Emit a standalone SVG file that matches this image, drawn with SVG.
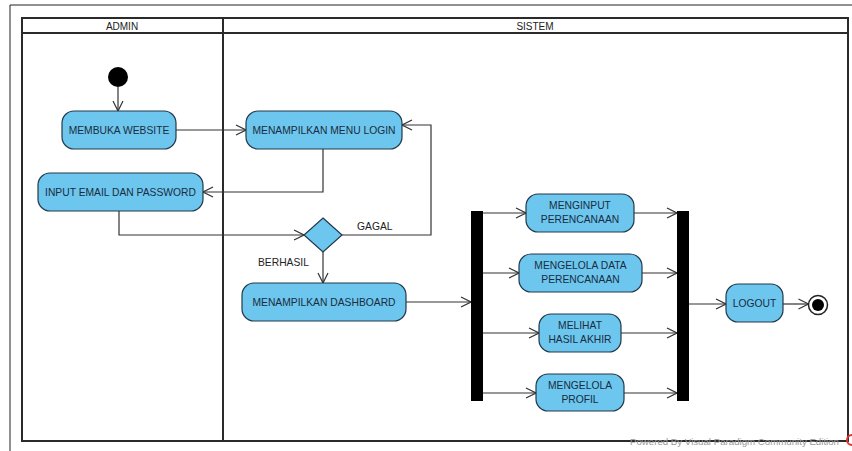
<svg xmlns="http://www.w3.org/2000/svg" width="852" height="451" viewBox="0 0 852 451">
  <style>
    .lane { fill: none; stroke: #2a2a2a; stroke-width: 2; }
    .hdr { font-family: "Liberation Sans", Arial, sans-serif; font-size: 10px; fill: #222; text-anchor: middle; }
    .act { fill: #6cc6ee; stroke: #22394a; stroke-width: 1.2; }
    .lbl { font-family: "Liberation Sans", Arial, sans-serif; font-size: 10.3px; fill: #1a2c3e; text-anchor: middle; }
    .guard { font-family: "Liberation Sans", Arial, sans-serif; font-size: 10.3px; fill: #222; }
    .edge { fill: none; stroke: #333; stroke-width: 1.2; marker-end: url(#open); }
    .bar { fill: #000; }
    .wm { font-family: "Liberation Sans", Arial, sans-serif; font-size: 9.4px; fill: #999; }
  </style>
  <defs>
    <marker id="open" viewBox="0 0 12 12" refX="11" refY="6" markerWidth="12" markerHeight="12" markerUnits="userSpaceOnUse" orient="auto">
      <path d="M1,1 L11,6 L1,11" fill="none" stroke="#333" stroke-width="1.2"/>
    </marker>
  </defs>

  <rect width="852" height="451" fill="#fff"/>
  <!-- page frame -->
  <path d="M10,451 V5 H852" fill="none" stroke="#222" stroke-width="1"/>

  <!-- swimlanes -->
  <g id="swimlanes">
    <rect class="lane" x="22" y="18" width="826" height="423"/>
    <line class="lane" x1="22" y1="33" x2="848" y2="33"/>
    <line class="lane" x1="223" y1="18" x2="223" y2="441"/>
    <text class="hdr" x="122" y="29.5">ADMIN</text>
    <text class="hdr" x="535" y="29.5">SISTEM</text>
  </g>

  <!-- connectors -->
  <g id="connectors">
    <path class="edge" d="M118,87 V111"/>
    <path class="edge" d="M176,130 H246"/>
    <path class="edge" d="M323,149 V192 H203"/>
    <path class="edge" d="M119,211 V235 H304"/>
    <path class="edge" d="M342,235 H431 V125 H402"/>
    <path class="edge" d="M323,252 V283"/>
    <path class="edge" d="M406,302 H471"/>
    <path class="edge" d="M483,213 H526"/>
    <path class="edge" d="M483,273 H519"/>
    <path class="edge" d="M483,333 H539"/>
    <path class="edge" d="M483,393 H536"/>
    <path class="edge" d="M634,213 H677"/>
    <path class="edge" d="M642,273 H677"/>
    <path class="edge" d="M621,333 H677"/>
    <path class="edge" d="M624,393 H677"/>
    <path class="edge" d="M689,304 H726"/>
    <path class="edge" d="M783,304 H808.5"/>
    <text class="guard" x="357" y="230">GAGAL</text>
    <text class="guard" x="258" y="266">BERHASIL</text>
  </g>

  <!-- nodes -->
  <g id="start"><circle cx="118" cy="77" r="10" fill="#000"/></g>

  <g id="membuka-website">
    <rect class="act" x="62" y="111" width="114" height="38" rx="12"/>
    <text class="lbl" x="119" y="133.5">MEMBUKA WEBSITE</text>
  </g>

  <g id="menampilkan-menu-login">
    <rect class="act" x="246" y="111" width="156" height="38" rx="12"/>
    <text class="lbl" x="324" y="133.5">MENAMPILKAN MENU LOGIN</text>
  </g>

  <g id="input-email-password">
    <rect class="act" x="38" y="173" width="165" height="38" rx="12"/>
    <text class="lbl" x="120.5" y="195.5">INPUT EMAIL DAN PASSWORD</text>
  </g>

  <g id="decision">
    <polygon class="act" points="323,218 342,235 323,252 304,235"/>
  </g>

  <g id="menampilkan-dashboard">
    <rect class="act" x="242" y="283" width="164" height="38" rx="12"/>
    <text class="lbl" x="324" y="305.5">MENAMPILKAN DASHBOARD</text>
  </g>

  <g id="fork"><rect class="bar" x="471" y="211" width="12" height="190"/></g>

  <g id="menginput-perencanaan">
    <rect class="act" x="526" y="194" width="108" height="38" rx="12"/>
    <text class="lbl" x="580" y="209">MENGINPUT</text>
    <text class="lbl" x="580" y="223">PERENCANAAN</text>
  </g>

  <g id="mengelola-data-perencanaan">
    <rect class="act" x="519" y="254" width="123" height="38" rx="12"/>
    <text class="lbl" x="580.5" y="269">MENGELOLA DATA</text>
    <text class="lbl" x="580.5" y="283">PERENCANAAN</text>
  </g>

  <g id="melihat-hasil-akhir">
    <rect class="act" x="539" y="314" width="82" height="38" rx="12"/>
    <text class="lbl" x="580" y="329">MELIHAT</text>
    <text class="lbl" x="580" y="343">HASIL AKHIR</text>
  </g>

  <g id="mengelola-profil">
    <rect class="act" x="536" y="374" width="88" height="37" rx="12"/>
    <text class="lbl" x="580" y="388.5">MENGELOLA</text>
    <text class="lbl" x="580" y="402.5">PROFIL</text>
  </g>

  <g id="join"><rect class="bar" x="677" y="211" width="12" height="190"/></g>

  <g id="logout">
    <rect class="act" x="726" y="284" width="57" height="38" rx="12"/>
    <text class="lbl" x="754.5" y="306.5">LOGOUT</text>
  </g>

  <g id="end">
    <circle cx="818" cy="305" r="9.5" fill="#fff" stroke="#222" stroke-width="1.5"/>
    <circle cx="818" cy="305" r="6" fill="#000"/>
  </g>

  <!-- editor footer -->
  <g id="footer">
    <text class="wm" x="630" y="444.5" textLength="209" lengthAdjust="spacingAndGlyphs">Powered By  Visual Paradigm Community Edition</text>
    <circle cx="852" cy="440" r="5" fill="none" stroke="#d33" stroke-width="2"/>
  </g>
</svg>
